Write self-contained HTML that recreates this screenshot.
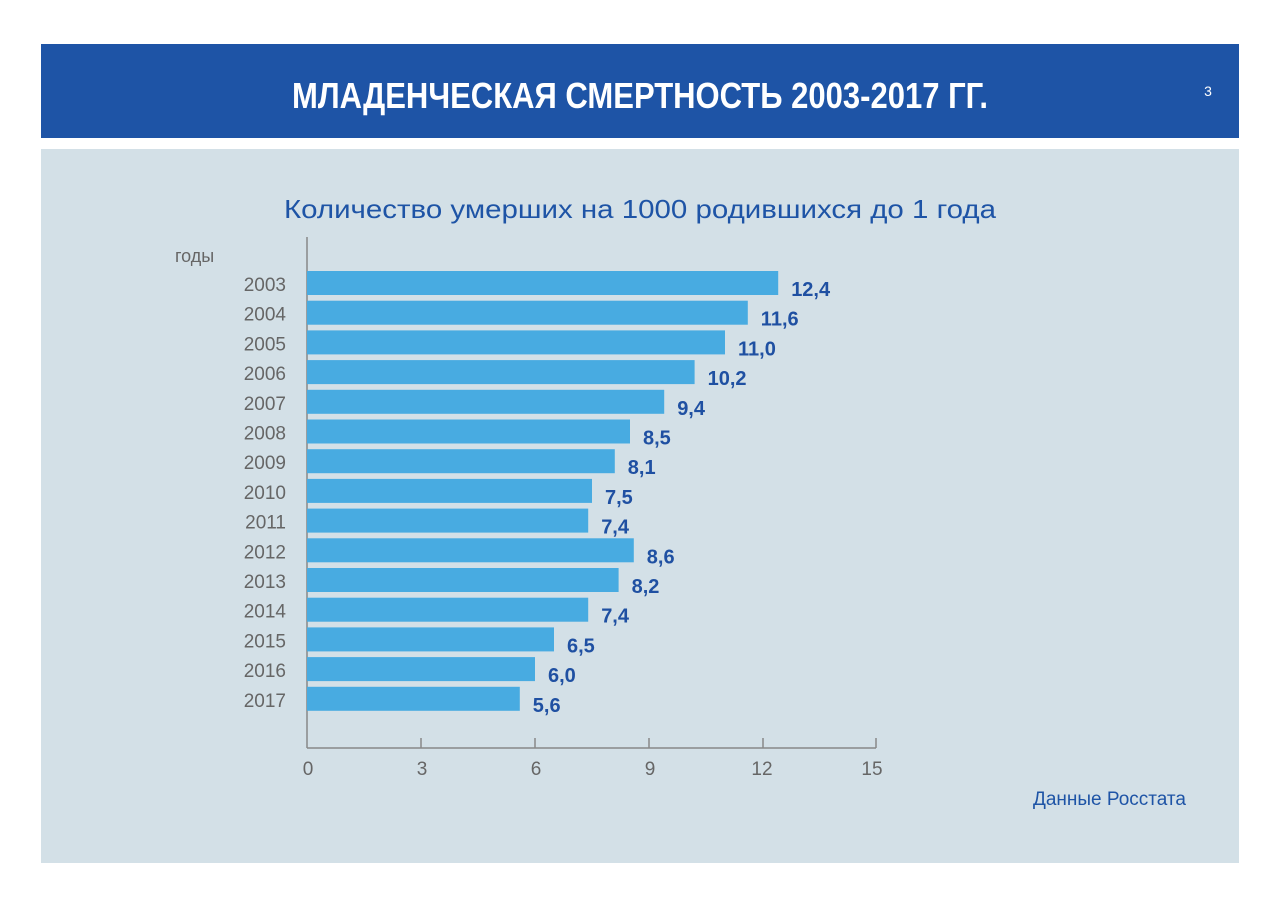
<!DOCTYPE html>
<html><head><meta charset="utf-8"><style>
body{margin:0;width:1280px;height:904px;background:#fff;position:relative;font-family:"Liberation Sans",sans-serif;overflow:hidden}
</style></head><body>
<svg width="1280" height="904" xmlns="http://www.w3.org/2000/svg" style="position:absolute;left:0;top:0">
<rect x="41" y="44" width="1198" height="94" fill="#1e54a6"/>
<text x="640" y="108" text-anchor="middle" fill="#fff" font-family="Liberation Sans Narrow, Liberation Sans, sans-serif" font-weight="bold" font-size="36" textLength="696" lengthAdjust="spacingAndGlyphs">МЛАДЕНЧЕСКАЯ СМЕРТНОСТЬ 2003-2017 ГГ.</text>
<text x="1208" y="96" text-anchor="middle" fill="#fff" font-size="14">3</text>
<rect x="41" y="149" width="1198" height="714" fill="#d3e0e7"/>
<text x="640" y="218" text-anchor="middle" fill="#1e54a6" font-size="26" textLength="712" lengthAdjust="spacingAndGlyphs">Количество умерших на 1000 родившихся до 1 года</text>
<text x="175" y="262" fill="#666" font-size="18">годы</text>
<g font-size="19" fill="#666" text-anchor="end" id="yl"></g>
<g id="bars"></g>
<line x1="307" y1="237" x2="307" y2="748" stroke="#888" stroke-width="1.5"/>
<line x1="307" y1="748" x2="876" y2="748" stroke="#888" stroke-width="1.5"/>
<g stroke="#888" stroke-width="1.5">
<line x1="421" y1="738" x2="421" y2="748"/><line x1="535" y1="738" x2="535" y2="748"/><line x1="649" y1="738" x2="649" y2="748"/><line x1="763" y1="738" x2="763" y2="748"/><line x1="876" y1="738" x2="876" y2="748"/>
</g>
<g font-size="19" fill="#666" text-anchor="middle">
<text x="308" y="775">0</text><text x="422" y="775">3</text><text x="536" y="775">6</text><text x="650" y="775">9</text><text x="762" y="775">12</text><text x="872" y="775">15</text>
</g>
<text x="1186" y="805" text-anchor="end" fill="#1e54a6" font-size="19">Данные Росстата</text>
<g id="all">
</g>
</svg>
<script>
var d=[12.4,11.6,11.0,10.2,9.4,8.5,8.1,7.5,7.4,8.6,8.2,7.4,6.5,6.0,5.6];
var ns="http://www.w3.org/2000/svg",s=document.querySelector('svg');
d.forEach(function(v,i){
 var y=271+i*29.7, w=v*38;
 var r=document.createElementNS(ns,'rect');r.setAttribute('x',307);r.setAttribute('y',y);r.setAttribute('width',w);r.setAttribute('height',24);r.setAttribute('fill','#48abe1');s.appendChild(r);
 var t=document.createElementNS(ns,'text');t.setAttribute('x',286);t.setAttribute('y',y+20);t.setAttribute('text-anchor','end');t.setAttribute('font-size','19');t.setAttribute('fill','#666');t.textContent=2003+i;s.appendChild(t);
 var l=document.createElementNS(ns,'text');l.setAttribute('x',307+w+13);l.setAttribute('y',y+25);l.setAttribute('font-size','20');l.setAttribute('font-weight','bold');l.setAttribute('fill','#1f50a2');l.textContent=v.toFixed(1).replace('.',',');s.appendChild(l);
});
</script>
</body></html>
